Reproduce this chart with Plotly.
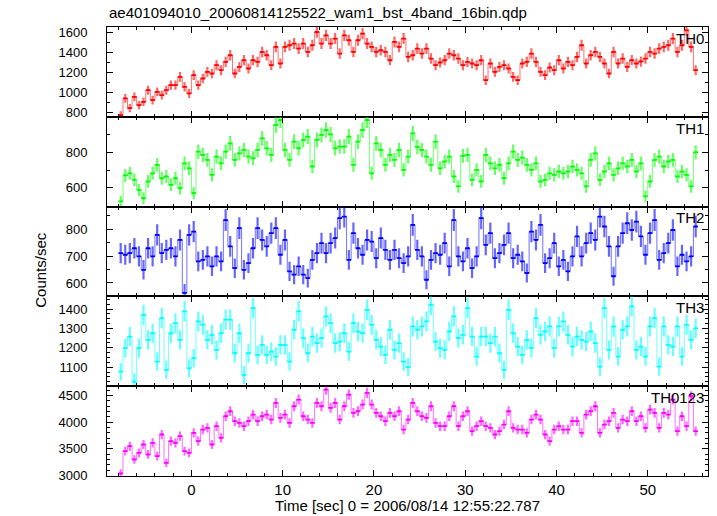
import numpy as np
import plotly.graph_objects as go
from plotly.subplots import make_subplots

TITLE = "ae401094010_20060814125522_wam1_bst_4band_16bin.qdp"
X_TITLE = "Time [sec] 0 = 2006/08/14 12:55:22.787"
Y_TITLE = "Counts/sec"
BAND_NAMES = ["TH0", "TH1", "TH2", "TH3", "TH0123"]
BAND_RGB = [(255, 0, 0), (0, 255, 0), (0, 0, 255), (0, 255, 255), (255, 0, 255)]
T_START = -7.75   # centre of first time bin [sec]
BIN_SEC = 0.5     # bin width [sec]

th0 = [773, 940, 843, 956, 873, 906, 1023, 923, 1006, 973,
       1023, 1073, 1073, 1156, 1056, 990, 1173, 1073, 1140, 1206,
       1190, 1273, 1223, 1306, 1373, 1190, 1256, 1323, 1240, 1323,
       1306, 1406, 1373, 1273, 1456, 1290, 1456, 1473, 1490, 1440,
       1490, 1406, 1473, 1606, 1490, 1573, 1490, 1540, 1390, 1573,
       1523, 1406, 1523, 1590, 1490, 1456, 1406, 1423, 1406, 1323,
       1506, 1456, 1540, 1356,
       1373, 1440, 1390, 1440, 1340, 1273, 1300, 1323, 1390, 1373,
       1340, 1273, 1306, 1290, 1273, 1323, 1123, 1290, 1206, 1256,
       1273, 1240, 1156, 1123, 1290, 1306, 1390, 1306, 1206, 1173,
       1250, 1223, 1323, 1240, 1306, 1273, 1356, 1473, 1290, 1373,
       1406, 1356, 1290, 1190, 1406, 1290, 1340, 1256, 1323, 1290,
       1310, 1340, 1406, 1390, 1440, 1456, 1473, 1540, 1406, 1473,
       1623, 1456, 1223]

th1 = [524, 670, 682, 645, 589, 542, 636, 682, 729, 654,
       664, 617, 654, 598, 738, 710, 570, 804, 785, 757,
       673, 776, 738, 804, 850, 757, 794, 813, 776, 766,
       813, 878, 822, 785, 953, 981, 813, 757, 860, 822,
       869, 888, 720, 869, 897, 925, 900, 822, 832, 832,
       888, 729, 860, 925, 981, 682, 850, 813, 729, 785,
       757, 813, 701, 776,
       906, 830, 813, 776, 729, 860, 710, 748, 776, 664,
       608, 780, 785, 645, 701, 636, 785, 738, 710, 730,
       654, 738, 804, 757, 770, 729, 701, 738, 636, 645,
       682, 673, 692, 682, 692, 720, 701, 682, 608, 757,
       794, 645, 692, 738, 673, 710, 738, 720, 757, 692,
       738, 552, 636, 757, 776, 720, 748, 757, 664, 692,
       673, 608, 800]

th2 = [711, 705, 711, 729, 699, 649, 729, 699, 779, 711,
       723, 729, 699, 760, 563, 779, 791, 680, 686, 699,
       662, 699, 680, 834, 736, 655, 804, 649, 674, 729,
       804, 760, 736, 785, 804, 705, 760, 643, 631, 662,
       631, 618, 686, 711, 748, 711, 748, 767, 841, 847,
       686, 785, 729, 705, 760, 754, 692, 767, 723, 686,
       723, 692, 674, 699,
       816, 723, 699, 612, 686, 711, 705, 748, 662, 834,
       699, 680, 729, 655, 699, 841, 742, 785, 692, 711,
       742, 785, 692, 705, 680, 637, 791, 760, 816, 674,
       692, 748, 662, 686, 643, 699, 773, 699, 748, 785,
       760, 847, 810, 736, 625, 736, 785, 822, 797, 828,
       773, 705, 785, 834, 686, 711, 748, 797, 662, 705,
       680, 699, 810]

th3 = [1077, 1198, 1258, 1025, 1198, 1370, 1241, 1275, 1129, 1353,
       1086, 1275, 1327, 1241, 1388, 1094, 1146, 1336, 1319, 1241,
       1267, 1189, 1275, 1345, 1345, 1172, 1275, 1060, 1172, 1405,
       1163, 1215, 1163, 1180, 1155, 1215, 1215, 1129, 1293, 1388,
       1250, 1172, 1258, 1224, 1250, 1362, 1327, 1224, 1232, 1275,
       1180, 1327, 1284, 1275, 1396, 1319, 1241, 1206, 1163, 1293,
       1189, 1224, 1129, 1100,
       1310, 1293, 1310, 1336, 1422, 1232, 1198, 1189, 1284, 1362,
       1250, 1267, 1405, 1258, 1155, 1258, 1258, 1224, 1258, 1172,
       1086, 1396, 1275, 1206, 1163, 1241, 1198, 1353, 1267, 1284,
       1310, 1198, 1310, 1336, 1267, 1206, 1258, 1241, 1232, 1284,
       1224, 1103, 1405, 1189, 1310, 1155, 1293, 1310, 1414, 1189,
       1206, 1155, 1310, 1353, 1103, 1310, 1215, 1206, 1310, 1155,
       1319, 1241, 1300]

th0123 = [3037, 3456, 3550, 3300, 3425, 3581, 3394, 3612, 3362, 3769,
          3238, 3644, 3612, 3738, 3456, 3425, 3800, 3644, 3862, 3894,
          3581, 3925, 3706, 4112, 4206, 4019, 3987, 3925, 4019, 4144,
          4019, 4112, 4144, 4050, 4362, 4081, 4144, 3987, 4300, 4425,
          4112, 4050, 3987, 4362, 4300, 4612, 4269, 4362, 4050, 4300,
          4519, 4175, 4206, 4331, 4550, 4331, 4175, 4112, 4019, 4175,
          4112, 4206, 3862, 4050,
          4362, 4206, 4112, 4081, 4300, 3987, 3925, 3925, 4112, 4300,
          3925, 4112, 4206, 3831, 3925, 4019, 3925, 3894, 3769, 3831,
          3956, 4206, 3894, 3862, 3862, 3800, 4050, 4144, 4050, 3769,
          3644, 3862, 3925, 3862, 3862, 4019, 4019, 3800, 4144, 4206,
          4300, 3800, 3956, 4019, 4175, 3894, 4050, 4019, 4206, 4019,
          4112, 3894, 4237, 4175, 3894, 4175, 4144, 4425, 3831, 4112,
          3925, 4487, 3831]

SERIES = [th0, th1, th2, th3, th0123]

# axis settings per panel: (range, major step, minor step)
Y_AXES = [
    ([756, 1656], 200, 100),
    ([495, 999], 200, 100),
    ([550, 884], 100, 50),
    ([1002, 1465], 100, 25),
    ([2990, 4676], 500, 100),
]
X_RANGE = [-9.25, 56.6]

FONT = "Liberation Sans, Arial, Helvetica, sans-serif"

fig = make_subplots(rows=5, cols=1, shared_xaxes=True, vertical_spacing=0)

for i, (vals, rgb) in enumerate(zip(SERIES, BAND_RGB)):
    v = np.array(vals, dtype=float)
    t = T_START + BIN_SEC * np.arange(len(v))
    err = np.sqrt(v / BIN_SEC)  # Poisson error of a rate in a 0.5 s bin
    solid = "rgb(%d,%d,%d)" % rgb
    light = "rgba(%d,%d,%d,0.6)" % rgb
    thin = "rgba(%d,%d,%d,0.7)" % rgb
    fig.add_trace(go.Scatter(
        x=t, y=v, mode="lines",
        line=dict(shape="hvh", width=0.8, color=thin),
        error_y=dict(type="data", array=err, color=light, thickness=2.2, width=0),
        error_x=dict(type="constant", value=BIN_SEC / 2, color=solid,
                     thickness=1.8, width=0),
        showlegend=False, hoverinfo="x+y",
    ), row=i + 1, col=1)

    rng, dt, mdt = Y_AXES[i]
    fig.update_yaxes(
        range=rng, dtick=dt, tick0=0, ticks="inside", ticklen=6,
        tickcolor="black", showline=True, linecolor="black", linewidth=1,
        mirror="allticks", showgrid=False, zeroline=False,
        ticklabelstandoff=16,
        tickfont=dict(family=FONT, size=13, color="black"),
        minor=dict(dtick=mdt, tick0=0, ticks="inside", ticklen=3,
                   tickcolor="black", showgrid=False),
        row=i + 1, col=1)
    fig.update_xaxes(
        range=X_RANGE, dtick=10, tick0=0, ticks="inside", ticklen=6,
        tickcolor="black", showline=True, linecolor="black", linewidth=1,
        mirror="allticks", showgrid=False, zeroline=False,
        tickfont=dict(family=FONT, size=15, color="black"),
        minor=dict(dtick=2, tick0=0, ticks="inside", ticklen=3,
                   tickcolor="black", showgrid=False),
        showticklabels=(i == 4),
        row=i + 1, col=1)

    yref = "y domain" if i == 0 else f"y{i + 1} domain"
    xref = "x domain" if i == 0 else f"x{i + 1} domain"
    fig.add_annotation(text=BAND_NAMES[i], xref=xref, yref=yref,
                       x=0.997, y=0.875, xanchor="right", yanchor="middle",
                       showarrow=False,
                       font=dict(family=FONT, size=15, color="black"))

fig.add_annotation(text=TITLE, xref="paper", yref="paper", x=0.0, y=1.033,
                   xanchor="left", yanchor="middle", showarrow=False,
                   font=dict(family=FONT, size=15, color="black"))
fig.add_annotation(text=X_TITLE, xref="paper", yref="paper", x=0.5, y=-0.066,
                   xanchor="center", yanchor="middle", showarrow=False,
                   font=dict(family=FONT, size=15, color="black"))
fig.add_annotation(text=Y_TITLE, xref="paper", yref="paper", x=-0.111, y=0.46,
                   xanchor="center", yanchor="middle", textangle=-90,
                   showarrow=False,
                   font=dict(family=FONT, size=15, color="black"))

fig.update_layout(
    width=717, height=516,
    margin=dict(l=107, r=9, t=27, b=40),
    paper_bgcolor="white", plot_bgcolor="white",
    font=dict(family=FONT, size=13, color="black"),
)

fig.write_html(
    "out.html",
    config={"displayModeBar": False},
    post_script="document.body.style.margin='0';document.body.style.overflow='hidden';",
)
